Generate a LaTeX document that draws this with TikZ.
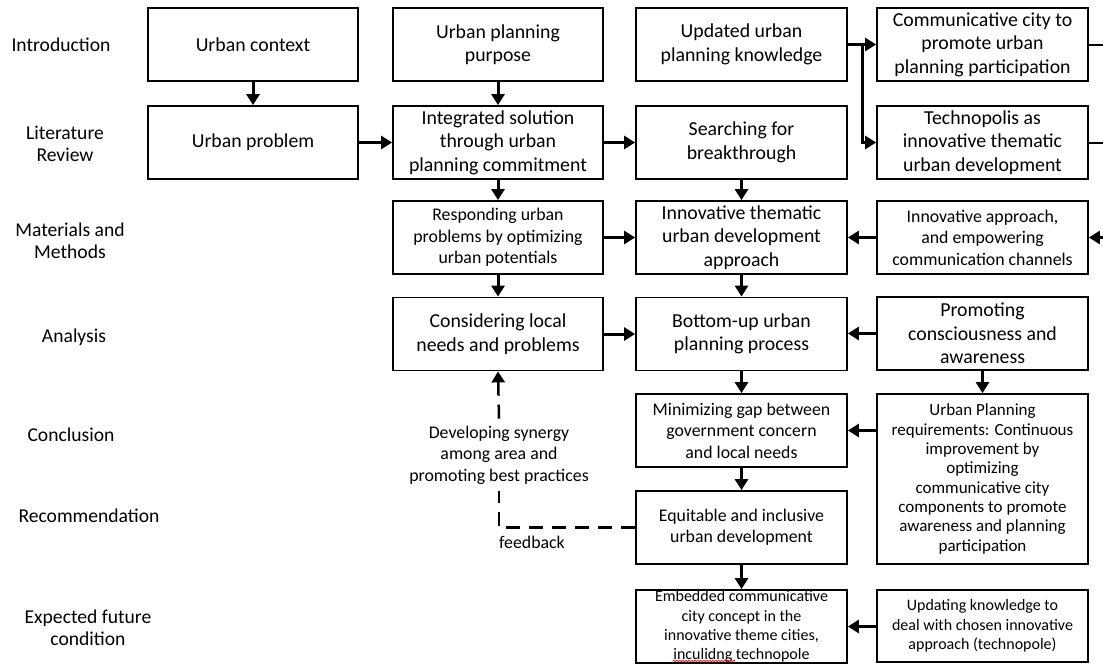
\documentclass[tikz,border=0pt]{standalone}
\usepackage{fontspec}
\setmainfont{Carlito}
\usetikzlibrary{arrows.meta,decorations.pathmorphing}
\tikzset{
  box/.style={draw, line width=1.8pt, minimum width=210pt, minimum height=73pt, inner sep=0pt, align=center, font=\fontsize{19.8}{23.5}\selectfont},
  sm/.style={font=\fontsize{17.8}{21.4}\selectfont},
  xs/.style={font=\fontsize{17}{19.3}\selectfont},
  xxs/.style={font=\fontsize{16}{19.3}\selectfont},
  lab/.style={align=center, inner sep=0pt, font=\fontsize{19.6}{22}\selectfont},
  arr/.style={line width=3pt, -{Triangle[width=13pt,length=11pt]}},
  fb/.style={line width=2.5pt, dash pattern=on 14pt off 9pt},
}
\begin{document}
\begin{tikzpicture}[x=1pt,y=-1pt]
\useasboundingbox (0,0) rectangle (1103,664);
% left labels
\node[lab] (l1) at (61,45) {Introduction};
\node[lab] (l2) at (65,144) {Literature\\Review};
\node[lab] (l3) at (70,241) {Materials and\\Methods};
\node[lab] (l4) at (74,337) {Analysis};
\node[lab] (l5) at (71,435) {Conclusion};
\node[lab] (l6) at (89,516) {Recommendation};
\node[lab] (l7) at (88,628) {Expected future\\condition};
% column 1
\node[box] (uc) at (253,44.5) {Urban context};
\node[box] (up) at (253,142.5) {Urban problem};
% column 2
\node[box] (upp) at (498,44.5) {Urban planning\\purpose};
\node[box] (is) at (498,142.5) {Integrated solution\\through urban\\planning commitment};
\node[box,sm] (resp) at (498,237.5) {Responding urban\\problems by optimizing\\urban potentials};
\node[box] (cons) at (498,334) {Considering local\\needs and problems};
% column 3
\node[box, minimum width=211pt] (upk) at (741.5,44.5) {Updated urban\\planning knowledge};
\node[box, minimum width=211pt] (sb) at (741.5,142.5) {Searching for\\breakthrough};
\node[box, minimum width=211pt] (itu) at (741.5,237.5) {Innovative thematic\\urban development\\approach};
\node[box, minimum width=211pt] (bu) at (741.5,334) {Bottom-up urban\\planning process};
\node[box, minimum width=211pt, sm] (min) at (741.5,430.5) {Minimizing gap between\\government concern\\and local needs};
\node[box, minimum width=211pt, sm] (eq) at (741.5,527.5) {Equitable and inclusive\\urban development};
\node[box, minimum width=211pt, xxs] (emb) at (741.5,626.5) {Embedded communicative\\city concept in the\\innovative theme cities,\\inculidng technopole};
% column 4
\node[box, minimum width=211pt] (cc) at (982.5,44.5) {Communicative city to\\promote urban\\planning participation};
\node[box, minimum width=211pt] (tp) at (982.5,142.5) {Technopolis as\\innovative thematic\\urban development};
\node[box, minimum width=211pt, sm] (ia) at (982.5,237.5) {Innovative approach,\\and empowering\\communication channels};
\node[box, minimum width=211pt] (pc) at (982.5,333.5) {Promoting\\consciousness and\\awareness};
\node[box, minimum width=211pt, minimum height=170pt, xs] (upr) at (982.5,479) {Urban Planning\\requirements: Continuous\\improvement by\\optimizing\\communicative city\\components to promote\\awareness and planning\\participation};
\node[box, minimum width=211pt, minimum height=72pt, xxs] (upd) at (982.5,626) {Updating knowledge to\\deal with chosen innovative\\approach (technopole)};
% spell-check mark
\draw[red, line width=0.7pt, decorate, decoration={snake, amplitude=0.8pt, segment length=3pt}] (673,661) -- (735,661);
% feedback text
\node[lab, sm, inner ysep=7pt] (syn) at (499,455) {Developing synergy\\among area and\\promoting best practices};
\node[lab, sm] (fbl) at (532,542) {feedback};
% right edge
\coordinate (r1) at (1103,44.5);
\coordinate (r2) at (1103,142.5);
\coordinate (r3) at (1103,237.5);
\coordinate (br) at (862,44.5);
% arrows
\draw[arr] (uc) -- (up);
\draw[arr] (up) -- (is);
\draw[arr] (upp) -- (is);
\draw[arr] (is) -- (sb);
\draw[arr] (is) -- (resp);
\draw[arr] (sb) -- (itu);
\draw[arr] (resp) -- (itu);
\draw[arr] (ia) -- (itu);
\draw[arr] (resp) -- (cons);
\draw[arr] (itu) -- (bu);
\draw[arr] (cons) -- (bu);
\draw[arr] (pc.west) -- (pc.west -| bu.east);
\draw[arr] (pc) -- (upr);
\draw[arr] (bu) -- (min);
\draw[arr] (upr.west |- min.east) -- (min.east);
\draw[arr] (min) -- (eq);
\draw[arr] (eq) -- (emb);
\draw[arr] (upd.west |- emb.east) -- (emb.east);
\draw[arr] (upk) -- (cc);
\draw[arr] (br) |- (tp.west);
\draw[line width=2pt] (cc.east) -- (r1);
\draw[line width=2pt] (tp.east) -- (r2);
\draw[arr] (r3) -- (ia.east);
% feedback
\draw[fb] (eq.west) -| (syn.south);
\draw[fb, -{Triangle[width=13pt,length=11pt]}] (syn.north) -- (cons.south);
\end{tikzpicture}
\end{document}
